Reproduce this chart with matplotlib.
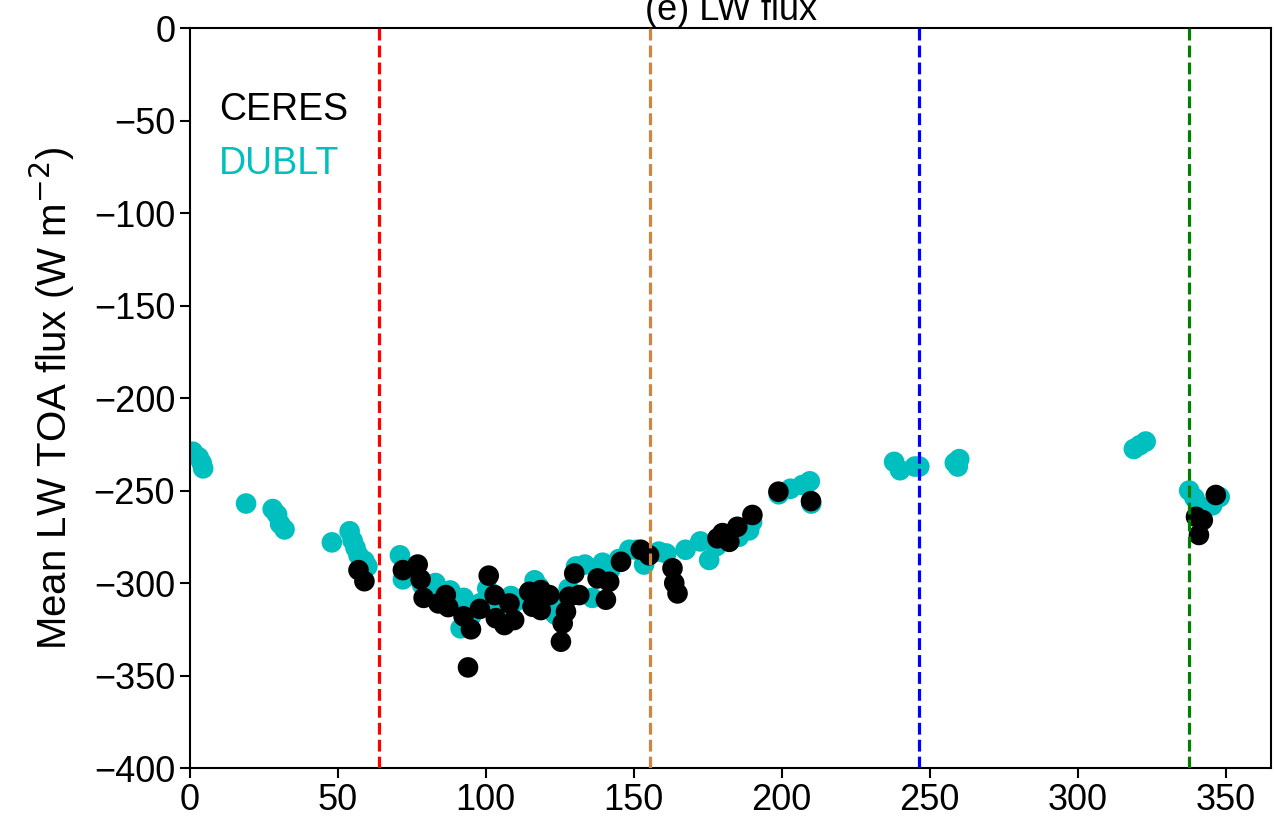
import numpy as np
import matplotlib
matplotlib.use('Agg')
import matplotlib.pyplot as plt

plt.rcParams['font.family'] = ['Liberation Sans', 'DejaVu Sans']

# CERES observations (day of year, W m-2)
ceres_day = [57, 59, 72, 77, 78, 79, 84, 86.5, 87.3, 92.5, 94, 95, 98, 101, 103,
             103.4, 106.3, 108, 109.6, 114.7, 115.8, 118.6, 118.6, 121.5, 125.4,
             126, 127.1, 128.2, 129.9, 131.6, 137.8, 140.6, 141.7, 145.7, 152.4,
             155.2, 163.1, 163.7, 164.8, 178.3, 180, 182.3, 185, 190.1, 198.9,
             209.9, 340, 342.3, 341, 346.7]
ceres_flux = [-293, -299, -293, -290, -298, -308, -311, -306.5, -313, -318, -345.6,
              -325, -314, -296, -306.5, -319, -322.7, -311, -320, -304.7, -312.8,
              -303.8, -314.6, -306.5, -331.7, -321.8, -315.5, -307.4, -294.8,
              -306.5, -297.5, -309, -299.3, -288.5, -282, -285, -292, -300, -305.6,
              -275.8, -273, -277.7, -269.6, -263.2, -250.6, -255.7, -264.2, -266,
              -274, -252.4]

# DUBLT model
dublt_day = [1, 3, 4, 4.5, 19, 28, 29.5, 30.5, 32, 48, 54, 55, 56, 57, 59, 60,
             71, 72, 74, 78.5, 81, 83, 85, 88, 90, 92.5, 91.5, 95, 98, 100.5, 103,
             106, 108.5, 110, 113, 116.5, 118, 121, 123.5, 126, 128, 130.5, 133.5,
             136, 139.5, 142, 145, 148.5, 151, 153.5, 158.5, 161, 167.5, 172.5,
             175.5, 178, 181, 185.5, 189, 190, 199, 203, 207, 209.5, 210,
             238, 240, 245, 246.5, 258.5, 259.5, 260,
             319, 321, 323, 337.7, 339.5, 341, 345.5, 348]
dublt_flux = [-229, -232, -235, -238, -257, -260, -263, -268, -271, -278, -272,
              -277, -281, -285, -288, -291, -285, -298, -296, -301, -303, -300,
              -305, -304, -309, -308, -324.5, -318, -311, -303, -312, -316, -307,
              -310, -308, -298.5, -302, -308, -317, -310, -303, -291, -290, -308,
              -289, -293, -287, -282, -282, -290, -283, -284, -282, -277.5, -287.5,
              -280, -275, -275, -271.5, -267, -252, -249, -247, -245, -257,
              -234.5, -239, -237, -237, -235, -237, -233,
              -227.5, -225.5, -223.5, -250, -254, -258, -258, -253.5]

season_days = [64, 155.5, 246.5, 337.5]
season_colors = ['red', 'peru', 'blue', 'green']

fig = plt.figure(figsize=(12.74, 8.23), dpi=100)
ax = fig.add_axes([0.149, 0.0668, 0.849, 0.899])

ax.scatter(dublt_day, dublt_flux, s=220, c='c', edgecolors='none', label='DUBLT', zorder=2)
ax.scatter(ceres_day, ceres_flux, s=220, c='k', edgecolors='none', label='CERES', zorder=3)

for d, col in zip(season_days, season_colors):
    ax.axvline(d, color=col, ls='--', lw=2.3, zorder=4)

ax.set_xlim(0, 365.5)
ax.set_ylim(-400, 0)
ax.set_xticks(np.arange(0, 351, 50))
ax.set_yticks(np.arange(-400, 1, 50))
ax.tick_params(labelsize=26, length=7, width=1.5, direction='out')
for sp in ax.spines.values():
    sp.set_linewidth(1.5)

ax.set_ylabel('Mean LW TOA flux (W m$^{-2}$)', fontsize=29, labelpad=12)
ax.set_title('(e) LW flux', fontsize=26, pad=4)

h, l = ax.get_legend_handles_labels()
leg = ax.legend(h[::-1], l[::-1], loc='upper left', bbox_to_anchor=(-0.008, 0.965),
                frameon=False, fontsize=27, handlelength=0, handletextpad=0,
                borderaxespad=0.6, labelspacing=0.5)
for hd in leg.legend_handles:
    hd.set_visible(False)
for txt, col in zip(leg.get_texts(), ['k', 'c']):
    txt.set_color(col)

fig.savefig('out.png', dpi=100)
